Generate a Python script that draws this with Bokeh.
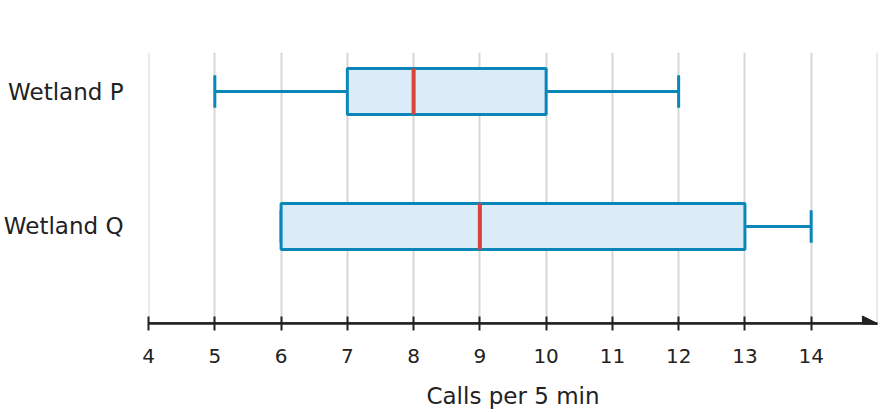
from bokeh.embed import file_html
from bokeh.models import Arrow, FixedTicker, NormalHead, Range1d
from bokeh.plotting import figure
from bokeh.resources import INLINE

# five-number summaries
wetlands = ['Wetland P', 'Wetland Q']
mins = [5, 6]
q1s = [7, 6]
medians = [8, 9]
q3s = [10, 13]
maxs = [12, 14]
x_ticks = list(range(4, 15))
grid_ticks = list(range(4, 16))

FONT = 'DejaVu Sans'
INK = '#222222'
BLUE = '#0a86b9'
FILL = '#dcebf8'
RED = '#d9413b'

# P on top, Q below
ys = [len(wetlands) - i for i in range(len(wetlands))]
box_h = 0.34
cap_h = 0.24

# tiny pad so the grid lines at 4 and 15 are not dropped as range ends
p = figure(
    frame_width=729,
    frame_height=271,
    output_backend='svg',
    toolbar_location=None,
    x_range=Range1d(3.999, 15.001),
    y_range=Range1d(0.281, 2.289),
    min_border_left=148,
    min_border_right=1,
    min_border_top=52,
    min_border_bottom=0,
)
p.outline_line_color = None
p.background_fill_color = 'white'
p.border_fill_color = 'white'

p.ygrid.visible = False
p.xgrid.ticker = FixedTicker(ticks=grid_ticks)
p.xgrid.grid_line_color = '#d6d6d6'
p.xgrid.grid_line_width = 2

# whiskers and caps
p.segment(x0=q3s, y0=ys, x1=maxs, y1=ys, line_color=BLUE, line_width=3)
p.segment(x0=mins, y0=ys, x1=q1s, y1=ys, line_color=BLUE, line_width=3)
p.segment(x0=maxs, y0=[y - cap_h / 2 for y in ys], x1=maxs, y1=[y + cap_h / 2 for y in ys],
          line_color=BLUE, line_width=3)
p.segment(x0=mins, y0=[y - cap_h / 2 for y in ys], x1=mins, y1=[y + cap_h / 2 for y in ys],
          line_color=BLUE, line_width=3)

# boxes
p.hbar(y=ys, height=box_h, left=q1s, right=q3s, fill_color=FILL, line_color=BLUE, line_width=3)

# medians
p.segment(x0=medians, y0=[y - box_h / 2 for y in ys], x1=medians, y1=[y + box_h / 2 for y in ys],
          line_color=RED, line_width=4)

# x axis with arrow
xa = p.xaxis[0]
xa.ticker = FixedTicker(ticks=x_ticks)
xa.axis_line_color = INK
xa.axis_line_width = 2.5
xa.major_tick_line_color = INK
xa.major_tick_line_width = 2
xa.major_tick_in = 7
xa.major_tick_out = 7
xa.minor_tick_line_color = None
xa.major_label_text_font = FONT
xa.major_label_text_font_size = '20px'
xa.major_label_text_color = INK
xa.major_label_standoff = 18
xa.axis_label = 'Calls per 5 min'
xa.axis_label_text_font = FONT
xa.axis_label_text_font_size = '23px'
xa.axis_label_text_font_style = 'normal'
xa.axis_label_text_color = INK
xa.axis_label_standoff = 17

p.add_layout(Arrow(
    x_start=4, y_start=0.281, x_end=15, y_end=0.281,
    line_color=INK, line_width=2.5,
    end=NormalHead(size=15, fill_color=INK, line_color=INK, line_width=1),
))

ya = p.yaxis[0]
ya.ticker = FixedTicker(ticks=ys)
ya.major_label_overrides = {y: name for y, name in zip(ys, wetlands)}
ya.axis_line_color = None
ya.major_tick_line_color = None
ya.minor_tick_line_color = None
ya.major_tick_out = 0
ya.major_tick_in = 0
ya.major_label_standoff = 25
ya.major_label_text_font = FONT
ya.major_label_text_font_size = '23px'
ya.major_label_text_color = INK

open('out.html', 'w').write(file_html(p, INLINE))
